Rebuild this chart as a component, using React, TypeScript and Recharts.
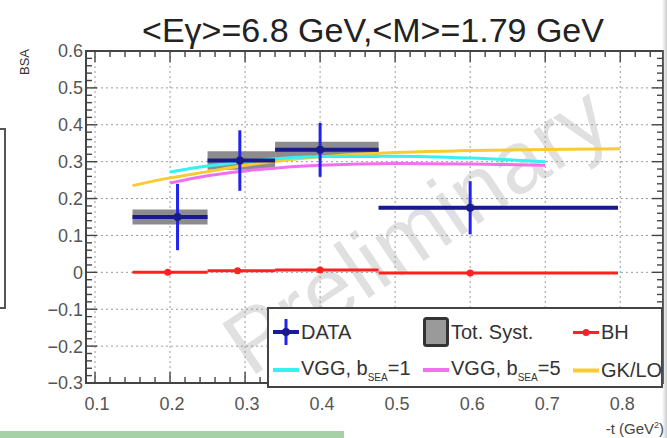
import {
  CartesianGrid,
  ComposedChart,
  ErrorBar,
  Legend,
  Line,
  ReferenceArea,
  Scatter,
  XAxis,
  YAxis,
} from 'recharts'

const FONT = '"Liberation Sans", Arial, Helvetica, sans-serif'

// measured points (-t bins)
const DATA_T = [0.21, 0.293, 0.4, 0.6]
const BIN_LO = [0.15, 0.25, 0.34, 0.478]
const BIN_HI = [0.25, 0.34, 0.478, 0.797]
const DATA_BSA = [0.15, 0.303, 0.332, 0.175]
const DATA_STAT = [0.09, 0.082, 0.073, 0.072]
const DATA_SYST = [0.02, 0.025, 0.022, 0.004]

// Bethe-Heitler
const BH_T = [0.197, 0.29, 0.4, 0.6]
const BH_BSA = [0.0, 0.004, 0.006, -0.002]

// models
const VGG1_T = [0.2, 0.25, 0.3, 0.35, 0.4, 0.5, 0.6, 0.7]
const VGG1_BSA = [0.272, 0.288, 0.3, 0.309, 0.314, 0.315, 0.31, 0.3]
const VGG5_T = [0.2, 0.25, 0.3, 0.35, 0.4, 0.5, 0.6, 0.7]
const VGG5_BSA = [0.242, 0.262, 0.275, 0.284, 0.29, 0.295, 0.294, 0.29]
const GK_T = [0.15, 0.2, 0.25, 0.3, 0.35, 0.4, 0.5, 0.6, 0.7, 0.8]
const GK_BSA = [0.235, 0.256, 0.273, 0.29, 0.303, 0.313, 0.325, 0.33, 0.333, 0.335]

const X_MIN = 0.088
const X_MAX = 0.857
const Y_MIN = -0.3
const Y_MAX = 0.6
const X_MAJOR = [0.1, 0.2, 0.3, 0.4, 0.5, 0.6, 0.7, 0.8]
const Y_MAJOR = [-0.3, -0.2, -0.1, 0, 0.1, 0.2, 0.3, 0.4, 0.5, 0.6]

const PLOT = { left: 86, right: 663, top: 51, bottom: 383 }

const steps = (from: number, to: number, step: number) => {
  const out: number[] = []
  for (let v = from; v <= to + 1e-9; v += step) out.push(Math.round(v * 100) / 100)
  return out
}
const X_TICKS = steps(0.1, 0.84, 0.02)
const Y_TICKS = steps(-0.3, 0.6, 0.02)

const isMajor = (v: number) => Math.abs(v * 10 - Math.round(v * 10)) < 1e-6
const fmt = (v: number) => (v === 0 ? '0' : v < 0 ? '\u2212' + Math.abs(v).toFixed(1) : v.toFixed(1))

const dataPts = DATA_T.map((t, i) => ({
  t,
  bsa: DATA_BSA[i],
  tErr: [t - BIN_LO[i], BIN_HI[i] - t],
  stat: DATA_STAT[i],
}))
const bhPts = BH_T.map((t, i) => ({ t, bsa: BH_BSA[i], tErr: [t - BIN_LO[i], BIN_HI[i] - t] }))
const vgg1 = VGG1_T.map((t, i) => ({ t, bsa: VGG1_BSA[i] }))
const vgg5 = VGG5_T.map((t, i) => ({ t, bsa: VGG5_BSA[i] }))
const gk = GK_T.map((t, i) => ({ t, bsa: GK_BSA[i] }))

function YTick({ y, payload }: any) {
  const v = payload.value
  const major = isMajor(v)
  const len = major ? 11 : 6
  return (
    <g>
      <line x1={PLOT.left} x2={PLOT.left + len} y1={y} y2={y} stroke="#444" strokeWidth={1.4} />
      <line x1={PLOT.right - len} x2={PLOT.right} y1={y} y2={y} stroke="#444" strokeWidth={1.4} />
      {major && (
        <text x={PLOT.left - 3} y={y} dy="0.36em" textAnchor="end" fontSize={18} fill="#555" fontFamily={FONT}>
          {fmt(v)}
        </text>
      )}
    </g>
  )
}

function XTick({ x, payload }: any) {
  const v = payload.value
  const major = isMajor(v)
  const len = major ? 11 : 6
  return (
    <g>
      <line x1={x} x2={x} y1={PLOT.bottom} y2={PLOT.bottom - len} stroke="#444" strokeWidth={1.4} />
      <line x1={x} x2={x} y1={PLOT.top} y2={PLOT.top + len} stroke="#444" strokeWidth={1.4} />
      {major && (
        <text x={x + 2} y={PLOT.bottom + 21} dy="0.36em" textAnchor="middle" fontSize={18} fill="#555" fontFamily={FONT}>
          {fmt(v)}
        </text>
      )}
    </g>
  )
}

const LEGEND_ITEMS = [
  { key: 'data', col: 0, row: 0 },
  { key: 'syst', col: 1, row: 0 },
  { key: 'bh', col: 2, row: 0 },
  { key: 'vgg1', col: 0, row: 1 },
  { key: 'vgg5', col: 1, row: 1 },
  { key: 'gk', col: 2, row: 1 },
]

function Icon({ kind }: { kind: string }) {
  if (kind === 'data')
    return (
      <svg width={26} height={26}>
        <line x1={0} x2={26} y1={13} y2={13} stroke="#1a1aa0" strokeWidth={4} />
        <line x1={13} x2={13} y1={0} y2={26} stroke="#2222ee" strokeWidth={3} />
        <circle cx={13} cy={13} r={4} fill="#1a1a8c" />
      </svg>
    )
  if (kind === 'syst')
    return (
      <svg width={26} height={30}>
        <rect x={1.5} y={1.5} width={23} height={27} fill="#9a9a9a" stroke="#333" strokeWidth={3} rx={2} />
      </svg>
    )
  const color = kind === 'bh' ? '#ff2020' : kind === 'vgg1' ? '#38f0f0' : kind === 'vgg5' ? '#f070f0' : '#f8cc30'
  return (
    <svg width={26} height={10}>
      <line x1={0} x2={26} y1={5} y2={5} stroke={color} strokeWidth={kind === 'bh' ? 3 : 4} />
      {kind === 'bh' && <circle cx={13} cy={5} r={3.5} fill={color} />}
    </svg>
  )
}

function LegendLabel({ kind }: { kind: string }) {
  const sub = (b: string) => (
    <>
      VGG, b<sub style={{ fontSize: 10, verticalAlign: -6 }}>SEA</sub>={b}
    </>
  )
  if (kind === 'data') return <>DATA</>
  if (kind === 'syst') return <>Tot. Syst.</>
  if (kind === 'bh') return <>BH</>
  if (kind === 'vgg1') return sub('1')
  if (kind === 'vgg5') return sub('5')
  return <>GK/LO</>
}

function LegendBox() {
  return (
    <div
      style={{
        position: 'relative',
        width: 396,
        height: 81,
        boxSizing: 'border-box',
        border: '2px solid #444',
        background: '#fff',
        fontFamily: FONT,
        fontSize: 20,
        color: '#333',
        overflow: 'hidden',
      }}
    >
      {LEGEND_ITEMS.map((it) => (
        <div
          key={it.key}
          style={{
            position: 'absolute',
            left: 3 + it.col * 150,
            top: it.row === 0 ? 23 : 61,
            transform: 'translateY(-50%)',
            display: 'flex',
            alignItems: 'center',
            whiteSpace: 'nowrap',
          }}
        >
          <div style={{ width: 28, display: 'flex', justifyContent: 'center' }}>
            <Icon kind={it.key} />
          </div>
          <span style={{ marginLeft: 1 }}>
            <LegendLabel kind={it.key} />
          </span>
        </div>
      ))}
    </div>
  )
}

export default function App() {
  return (
    <div
      style={{
        position: 'absolute',
        left: 0,
        top: 0,
        width: 667,
        height: 438,
        overflow: 'hidden',
        background: '#fff',
        fontFamily: FONT,
      }}
    >
      {/* watermark */}
      <div
        style={{
          position: 'absolute',
          left: 416,
          top: 230,
          transform: 'translate(-50%, -50%) rotate(-34deg)',
          fontSize: 88,
          color: '#e0e0e0',
          whiteSpace: 'nowrap',
        }}
      >
        Preliminary
      </div>

      <div
        style={{
          position: 'absolute',
          left: 373,
          top: 10,
          transform: 'translateX(-50%)',
          fontSize: 34,
          color: '#222',
          whiteSpace: 'nowrap',
          lineHeight: '40px',
        }}
      >
        {'<E\u03b3>=6.8 GeV,<M>=1.79 GeV'}
      </div>

      <div
        style={{
          position: 'absolute',
          left: 24,
          top: 62,
          transform: 'translate(-50%, -50%) rotate(-90deg)',
          fontSize: 13,
          color: '#333',
        }}
      >
        BSA
      </div>

      <div style={{ position: 'absolute', right: 3, top: 420, fontSize: 15, color: '#444', whiteSpace: 'nowrap' }}>
        -t (GeV<sup style={{ fontSize: 9 }}>2</sup>)
      </div>

      <div style={{ position: 'absolute', left: 0, top: 0 }}>
        <ComposedChart width={667} height={438} margin={{ top: PLOT.top, right: 667 - PLOT.right, bottom: 0, left: 0 }}>
          <CartesianGrid
            stroke="#999"
            strokeDasharray="2 3"
            horizontalValues={Y_MAJOR}
            verticalValues={X_MAJOR}
          />
          <XAxis
            type="number"
            dataKey="t"
            domain={[X_MIN, X_MAX]}
            allowDataOverflow
            ticks={X_TICKS}
            interval={0}
            tickSize={0}
            axisLine={false}
            height={438 - PLOT.bottom}
            tick={(p: any) => <XTick {...p} />}
          />
          <YAxis
            type="number"
            domain={[Y_MIN, Y_MAX]}
            allowDataOverflow
            ticks={Y_TICKS}
            interval={0}
            tickSize={0}
            axisLine={false}
            width={PLOT.left}
            tick={(p: any) => <YTick {...p} />}
          />
          {DATA_T.map((t, i) => (
            <ReferenceArea
              key={'syst' + t}
              x1={BIN_LO[i]}
              x2={BIN_HI[i]}
              y1={DATA_BSA[i] - DATA_SYST[i]}
              y2={DATA_BSA[i] + DATA_SYST[i]}
              fill="#808080"
              fillOpacity={0.9}
              stroke="none"
            />
          ))}
          <Scatter
            name="BH"
            data={bhPts}
            dataKey="bsa"
            isAnimationActive={false}
            shape={(p: any) => <circle cx={p.cx} cy={p.cy} r={3.5} fill="#ff2020" />}
          >
            <ErrorBar dataKey="tErr" direction="x" width={0} stroke="#ff2020" strokeWidth={3} />
          </Scatter>
          <Line data={gk} dataKey="bsa" type="monotone" stroke="#f8cc30" strokeWidth={3} dot={false} isAnimationActive={false} />
          <Line data={vgg1} dataKey="bsa" type="monotone" stroke="#38f0f0" strokeWidth={3} dot={false} isAnimationActive={false} />
          <Line data={vgg5} dataKey="bsa" type="monotone" stroke="#f070f0" strokeWidth={3} dot={false} isAnimationActive={false} />
          <Scatter
            name="DATA"
            data={dataPts}
            dataKey="bsa"
            isAnimationActive={false}
            shape={(p: any) => <circle cx={p.cx} cy={p.cy} r={4} fill="#1a1a8c" />}
          >
            <ErrorBar dataKey="stat" direction="y" width={0} stroke="#2222ee" strokeWidth={3} />
            <ErrorBar dataKey="tErr" direction="x" width={0} stroke="#1a1a8c" strokeWidth={4} />
          </Scatter>
          <ReferenceArea x1={X_MIN} x2={X_MAX} y1={Y_MIN} y2={Y_MAX} fill="none" stroke="#444" strokeWidth={2} />
          <Legend
            layout="horizontal"
            verticalAlign="middle"
            align="center"
            width={396}
            height={81}
            wrapperStyle={{ left: 267, top: 307, width: 396, height: 81 }}
            content={() => <LegendBox />}
          />
        </ComposedChart>
      </div>

      {/* slide artefacts around the plot */}
      <div
        style={{
          position: 'absolute',
          left: -10,
          top: 128,
          width: 12,
          height: 177,
          border: '2px solid #555',
        }}
      />
      <div style={{ position: 'absolute', left: 0, top: 431, width: 344, height: 7, background: '#a6d1a6' }} />
      <div
        style={{
          position: 'absolute',
          right: 0,
          top: 0,
          width: 5,
          height: 438,
          background: 'linear-gradient(to right, rgba(200,200,200,0), rgba(190,190,190,0.8))',
        }}
      />
    </div>
  )
}
